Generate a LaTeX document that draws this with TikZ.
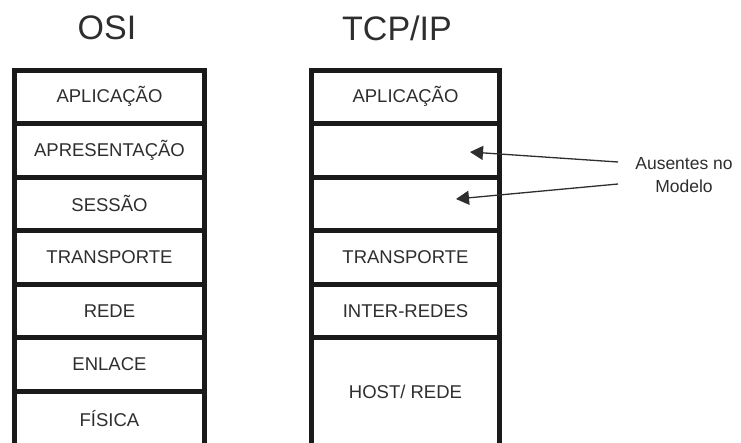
\documentclass[tikz,border=0pt]{standalone}
\usepackage{fontspec}
\setmainfont{Liberation Sans}
\usetikzlibrary{arrows.meta}
\definecolor{txt}{HTML}{2E2E2E}
\definecolor{frame}{HTML}{1A1A1A}
\begin{document}
\begin{tikzpicture}[x=1pt,y=-1pt,
  layer/.style={draw=frame, line width=5pt, fill=white, minimum width=190pt, inner sep=0pt,
    text=txt, font=\fontsize{18.5}{20}\selectfont, anchor=north west},
  title/.style={text=txt, font=\fontsize{34}{36}\selectfont, inner sep=0pt},
  note/.style={text=txt, font=\fontsize{17.5}{23}\selectfont, align=center, inner sep=0pt},
  pointer/.style={draw=txt, line width=1.3pt, -{Triangle[length=13pt,width=14pt]}}]
\useasboundingbox (0,0) rectangle (741,442);
% titles
\node[title] (osiT) at (107,28) {OSI};
\node[title] (tcpT) at (397,28) {TCP/IP};
% OSI column
\node[layer, minimum height=53.5pt] (o1) at (12,67.5) {APLICAÇÃO};
\node[layer, minimum height=53.5pt] (o2) at (12,121) {APRESENTAÇÃO};
\node[layer, minimum height=53.5pt] (o3) at (12,174.5) {SESSÃO};
\node[layer, minimum height=53.5pt] (o4) at (12,228) {TRANSPORTE};
\node[layer, minimum height=53.5pt] (o5) at (12,281.5) {REDE};
\node[layer, minimum height=53.5pt] (o6) at (12,335) {ENLACE};
\node[layer, minimum height=54.5pt] (o7) at (12,388.5) {FÍSICA};
% TCP/IP column
\node[layer, minimum width=188pt, minimum height=53.5pt] (t1) at (309,67.5) {APLICAÇÃO};
\node[layer, minimum width=188pt, minimum height=53.5pt] (t2) at (309,121) {};
\node[layer, minimum width=188pt, minimum height=53.5pt] (t3) at (309,174.5) {};
\node[layer, minimum width=188pt, minimum height=53.5pt] (t4) at (309,228) {TRANSPORTE};
\node[layer, minimum width=188pt, minimum height=53.5pt] (t5) at (309,281.5) {INTER-REDES};
\node[layer, minimum width=188pt, minimum height=108pt] (t6) at (309,335) {HOST/ REDE};
% note and pointers
\node[note] (note) at (684,175) {Ausentes no\\Modelo};
\coordinate (p1s) at (618,162);
\coordinate (p1e) at (470,152);
\coordinate (p2s) at (618,184);
\coordinate (p2e) at (456,199);
\draw[pointer] (p1s) -- (p1e);
\draw[pointer] (p2s) -- (p2e);
\end{tikzpicture}
\end{document}
